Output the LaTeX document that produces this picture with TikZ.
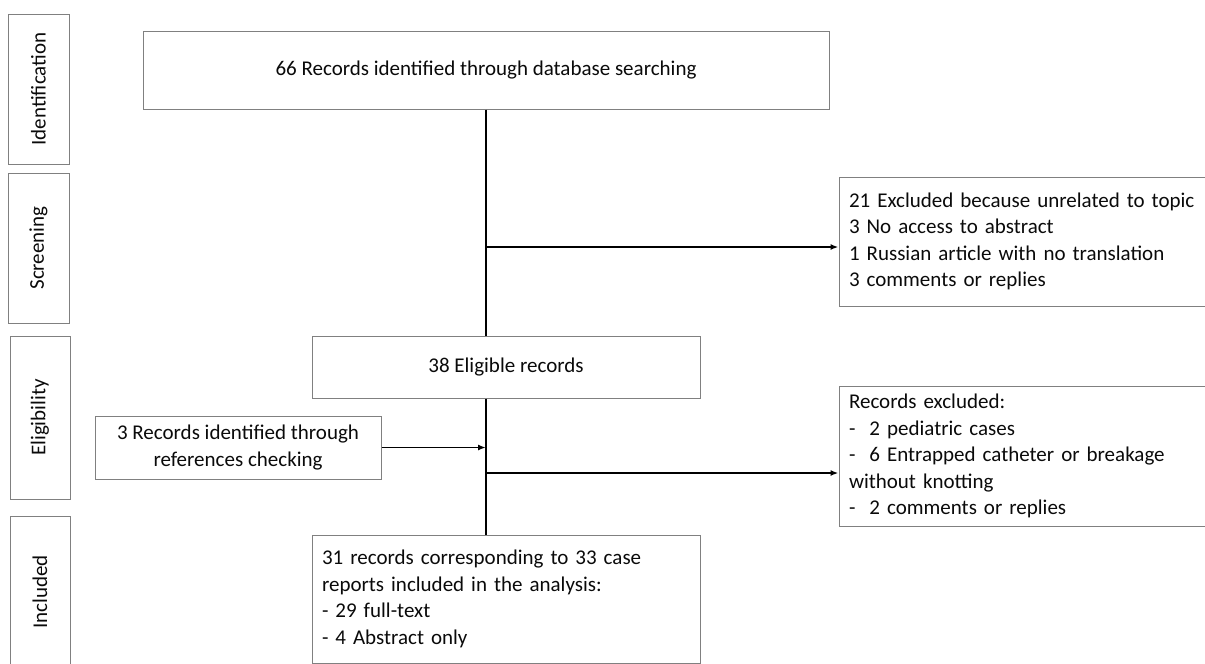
\documentclass[tikz,border=0pt]{standalone}
\usepackage{fontspec}
\setmainfont{Carlito}
\usetikzlibrary{positioning}
\usetikzlibrary{arrows.meta}
\definecolor{boxgrey}{RGB}{128,128,128}
\definecolor{textblack}{RGB}{10,10,10}
\tikzset{
        box/.style={draw=boxgrey, line width=1pt, inner sep=0pt, text=textblack},
        % Phase labels on the left
        stage_box/.style={box, rotate=90, align=center},
        % Record counts on the main line
        record_box/.style={box, align=center},
        % Lists of records, left aligned
        list_box/.style={box, align=left, inner xsep=10pt},
        % Connectors
        flow/.style={line width=1.6pt, black},
        flow_arrow/.style={flow, -{Latex[length=8pt,width=6pt]}}
}

\begin{document}
\begin{tikzpicture}[x=1pt, y=-1pt, font=\fontsize{21}{26.5}\selectfont]
    \useasboundingbox (0,0) rectangle (1205,664);
    \clip (0,0) rectangle (1205,664);

    % Phases
    \node[stage_box, minimum width=150pt, minimum height=61pt] (ident) at (38.5,89) {Identification};
    \node[stage_box, minimum width=150pt, minimum height=61pt] (screen) at (38.5,248) {Screening};
    \node[stage_box, minimum width=163pt, minimum height=60pt] (elig) at (40,417.5) {Eligibility};
    \node[stage_box, minimum width=152pt, minimum height=60pt] (incl) at (40,592) {Included};

    % Records
    \node[record_box, minimum width=686pt, minimum height=78pt] (top) at (486,70)
        {66 Records identified through database searching};
    \node[record_box, minimum width=388pt, minimum height=62pt] (eligible) at (506,367)
        {38 Eligible records};
    \node[record_box, minimum width=286pt, minimum height=63pt] (refs) at (238,447.5)
        {3 Records identified through\\references checking};
    \node[list_box, text width=368pt, minimum height=128pt] (included) at (506,599)
        {31 records corresponding to 33 case\\
         reports included in the analysis:\\
         - 29 full-text\\
         - 4 Abstract only};

    % Exclusions
    \node[list_box, text width=356pt, minimum height=129pt] (excl_screen) at (1027,241.5)
        {21 Excluded because unrelated to topic\\
         3 No access to abstract\\
         1 Russian article with no translation\\
         3 comments or replies};
    \node[list_box, text width=356pt, minimum height=140pt] (excl_elig) at (1027,456)
        {Records excluded:\\
         - \ 2 pediatric cases\\
         - \ 6 Entrapped catheter or breakage\\
         without knotting\\
         - \ 2 comments or replies};

    % Main line
    \draw[flow] (top) -- (top |- eligible.north);
    \draw[flow] (top |- eligible.south) -- (top |- included.north);

    \coordinate (split1) at (486,247);
    \draw[flow_arrow] (split1) -- (split1 -| excl_screen.west);
    \draw[flow_arrow] (refs.east) -- (refs.east -| top);
    \coordinate (split2) at (486,473);
    \draw[flow_arrow] (split2) -- (split2 -| excl_elig.west);
\end{tikzpicture}
\end{document}
